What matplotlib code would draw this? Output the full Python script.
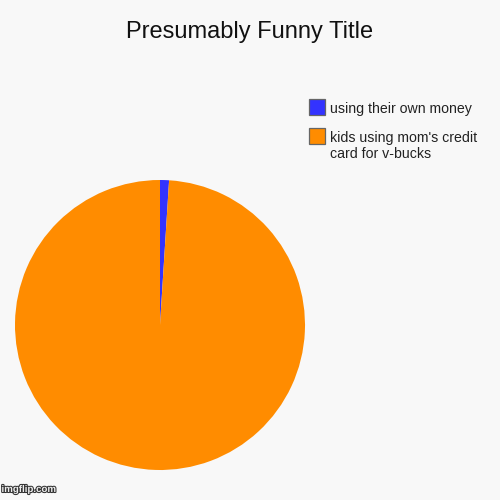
import matplotlib
matplotlib.use("Agg")
import matplotlib.pyplot as plt
import matplotlib.patheffects as pe
from matplotlib.patches import Rectangle

labels = ["using their own money", "kids using mom's credit\ncard for v-bucks"]
values = [1, 99]
colors = ["#3333ff", "#ff8c00"]
title = "Presumably Funny Title"

plt.rcParams['font.family'] = ['Liberation Sans', 'DejaVu Sans']

W = H = 500.0
fig = plt.figure(figsize=(5, 5), dpi=100)
fig.patch.set_facecolor("#f8f8f8")

ax = fig.add_axes([0.03, 0.06, 0.58, 0.58])
ax.set_facecolor("#f8f8f8")
wedges, _ = ax.pie(values, colors=colors, startangle=90, counterclock=False,
                   wedgeprops=dict(linewidth=0))
ax.set_aspect("equal")
ax.set_xlim(-1, 1)
ax.set_ylim(-1, 1)
ax.axis("off")

fig.text(0.5, 1 - 38 / H, title, ha="center", va="baseline", fontsize=17, color="#111111")

# legend drawn manually (square aligned with first text line)
for i, (lab, c) in enumerate(zip(labels, colors)):
    top = 99 + 29 * i
    fig.patches.append(Rectangle((309 / W, 1 - (top + 16) / H), 16 / W, 16 / H,
                                 transform=fig.transFigure, facecolor=c,
                                 edgecolor="#666666", linewidth=0.9))
    for j, line in enumerate(lab.split("\n")):
        base = top + 14 + 16 * j
        fig.text(330 / W, 1 - base / H, line, ha="left", va="baseline",
                 fontsize=10.2, color="#222222")

fig.text(0.003, 0.012, "imgflip.com", fontsize=7, color="#eeeeee", ha="left", va="bottom",
         fontweight="bold",
         path_effects=[pe.withStroke(linewidth=1.5, foreground="#333333")])

fig.savefig("out.png", dpi=100, facecolor=fig.get_facecolor())
